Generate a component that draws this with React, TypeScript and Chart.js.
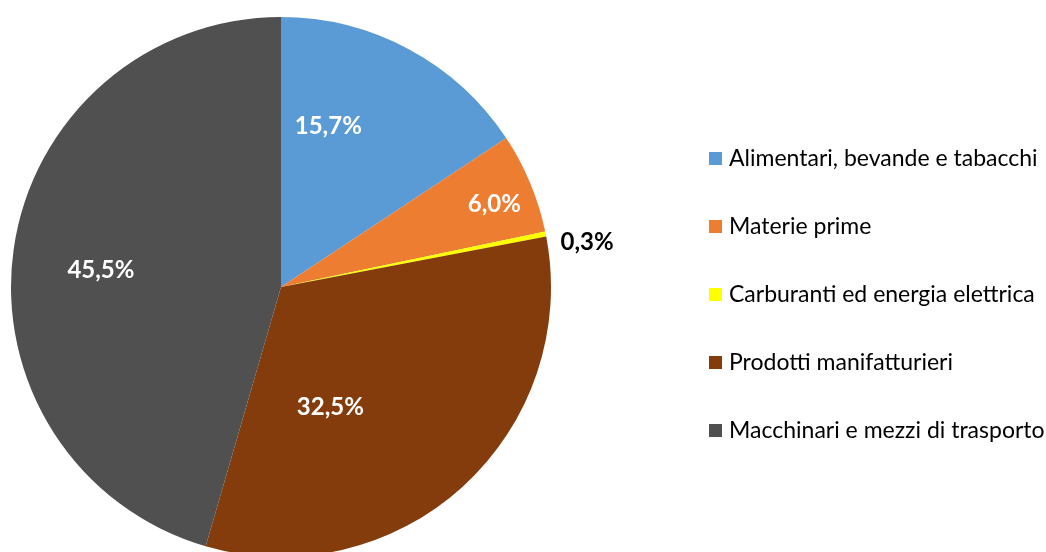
import React, { useEffect, useRef } from "react";
import { Chart, registerables } from "chart.js";

Chart.register(...registerables);

const categories = [
  "Alimentari, bevande e tabacchi",
  "Materie prime",
  "Carburanti ed energia elettrica",
  "Prodotti manifatturieri",
  "Macchinari e mezzi di trasporto",
];
const values = [15.7, 6.0, 0.3, 32.5, 45.5];
const colors = ["#5B9BD5", "#ED7D31", "#FFFF00", "#843C0C", "#505050"];
const labelColors = ["#FFFFFF", "#FFFFFF", "#000000", "#FFFFFF", "#FFFFFF"];
// label placement: radius fraction and angular shift (degrees) from slice middle
const labelRadius = [0.622, 0.848, 1.146, 0.482, 0.67];
const labelShift = [-11.9, 1.4, 3.0, 20, -2.7];

const FONT = "Lato, 'Open Sans', sans-serif";

const fmt = (v: number) => v.toFixed(1).replace(".", ",") + "%";

const overlayPlugin = {
  id: "overlay",
  afterDatasetsDraw(chart: any) {
    const ctx = chart.ctx;
    const meta = chart.getDatasetMeta(0);
    ctx.save();
    ctx.textAlign = "center";
    ctx.textBaseline = "middle";
    ctx.font = `bold 24px ${FONT}`;
    meta.data.forEach((arc: any, i: number) => {
      const p = arc.getProps(["x", "y", "startAngle", "endAngle", "outerRadius"], true);
      const mid = (p.startAngle + p.endAngle) / 2 + (labelShift[i] * Math.PI) / 180;
      const r = p.outerRadius * labelRadius[i];
      ctx.fillStyle = labelColors[i];
      ctx.fillText(fmt(values[i]), p.x + r * Math.cos(mid), p.y + r * Math.sin(mid));
    });
    // legend
    const lx = 709;
    const ly0 = 158;
    const step = 68;
    ctx.textAlign = "left";
    ctx.font = `23px ${FONT}`;
    categories.forEach((c, i) => {
      const y = ly0 + i * step;
      ctx.fillStyle = colors[i];
      ctx.fillRect(lx, y - 6, 13, 13);
      ctx.fillStyle = "#000000";
      ctx.fillText(c, lx + 20, y + 1);
    });
    ctx.restore();
  },
};

export default function App() {
  const ref = useRef<HTMLCanvasElement>(null);
  useEffect(() => {
    if (!ref.current) return;
    const chart = new Chart(ref.current, {
      type: "pie",
      data: {
        labels: categories,
        datasets: [
          {
            data: values,
            backgroundColor: colors,
            borderWidth: 0,
          },
        ],
      },
      options: {
        responsive: false,
        animation: false,
        layout: { padding: { left: 11, right: 495, top: 17, bottom: 17 } },
        plugins: {
          legend: { display: false },
          tooltip: { enabled: false },
        },
      },
      plugins: [overlayPlugin],
    });
    return () => chart.destroy();
  }, []);
  return (
    <div
      style={{
        position: "absolute",
        left: 0,
        top: 0,
        width: 1046,
        height: 552,
        overflow: "hidden",
        background: "#ffffff",
      }}
    >
      <canvas ref={ref} width={1046} height={574} style={{ display: "block" }} />
    </div>
  );
}
